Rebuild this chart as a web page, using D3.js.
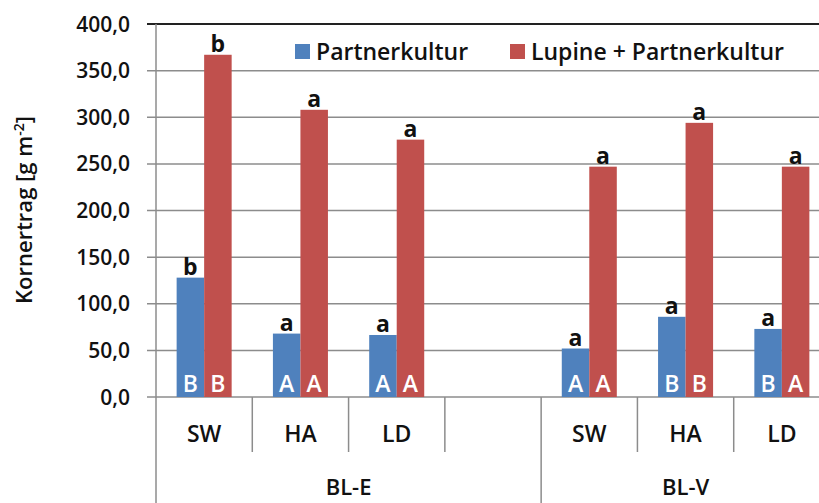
<!DOCTYPE html>
<html>
<head>
<meta charset="utf-8">
<script src="https://cdn.jsdelivr.net/npm/d3@7"></script>
<style>
  body { margin: 0; background: #fff; }
  svg text { font-family: 'Open Sans', Lato, sans-serif; font-weight: 600; fill: #111; }
</style>
</head>
<body>
<div id="chart"></div>
<script>
// Data
const slots = ['E-SW', 'E-HA', 'E-LD', 'E-gap', 'V-SW', 'V-HA', 'V-LD'];
const categories = ['SW', 'HA', 'LD', '', 'SW', 'HA', 'LD'];
const groups = ['BL-E', 'BL-V'];
const groupSlots = [['E-SW', 'E-gap'], ['V-SW', 'V-LD']];
const series = ['Partnerkultur', 'Lupine + Partnerkultur'];
const partner = [128, 68, 66.5, null, 52, 86, 73];
const lupine = [367, 308, 276, null, 247, 294, 247];
const partnerLower = ['b', 'a', 'a', null, 'a', 'a', 'a'];
const lupineLower = ['b', 'a', 'a', null, 'a', 'a', 'a'];
const partnerUpper = ['B', 'A', 'A', null, 'A', 'B', 'B'];
const lupineUpper = ['B', 'A', 'A', null, 'A', 'B', 'A'];
const yTicks = [0, 50, 100, 150, 200, 250, 300, 350, 400];

const colors = ['#4F81BD', '#C0504D'];
const W = 819, H = 503;

const svg = d3.select('#chart').append('svg')
  .attr('width', W)
  .attr('height', H);

const x = d3.scaleBand().domain(slots).range([156, 830]).padding(0);
const xs = d3.scaleBand().domain([0, 1]).range([0, x.bandwidth()]).paddingInner(0).paddingOuter(0.75);
const y = d3.scaleLinear().domain([0, 400]).range([397, 24]);

// Gridlines
svg.append('g')
  .selectAll('line')
  .data(yTicks)
  .join('line')
  .attr('x1', 147)
  .attr('x2', W)
  .attr('y1', d => y(d))
  .attr('y2', d => y(d))
  .attr('stroke', d => d === 400 ? '#222' : '#8c8c8c')
  .attr('stroke-width', d => d === 400 ? 2 : 1.5);

// Y tick labels
svg.append('g')
  .selectAll('text')
  .data(yTicks)
  .join('text')
  .attr('x', 130)
  .attr('y', d => y(d))
  .attr('dy', '0.36em')
  .attr('text-anchor', 'end')
  .style('font-size', '21px')
  .text(d => d3.format('.1f')(d).replace('.', ','));

// Y axis title
const yt = svg.append('text')
  .attr('transform', 'translate(32,210) rotate(-90)')
  .attr('text-anchor', 'middle')
  .style('font-size', '22px');
yt.append('tspan').text('Kornertrag [g m');
yt.append('tspan').attr('dy', -8).style('font-size', '14px').text('-2');
yt.append('tspan').attr('dy', 8).text(']');

// Left axis line
svg.append('line')
  .attr('x1', 156).attr('x2', 156)
  .attr('y1', 24).attr('y2', H)
  .attr('stroke', '#8c8c8c').attr('stroke-width', 1.5);

// Category separators
const bounds = slots.slice(1).map(s => x(s));
svg.append('g')
  .selectAll('line')
  .data(bounds)
  .join('line')
  .attr('x1', d => d).attr('x2', d => d)
  .attr('y1', 397)
  .attr('y2', d => Math.abs(d - x('V-SW')) < 1 ? H : 452)
  .attr('stroke', '#8c8c8c').attr('stroke-width', 1.5);

// Category labels
svg.append('g')
  .selectAll('text')
  .data(slots)
  .join('text')
  .attr('x', d => x(d) + x.bandwidth() / 2)
  .attr('y', 442)
  .attr('text-anchor', 'middle')
  .style('font-size', '23px')
  .text((d, i) => categories[i]);

// Group labels
svg.append('g')
  .selectAll('text')
  .data(groups)
  .join('text')
  .attr('x', (d, i) => (x(groupSlots[i][0]) + x(groupSlots[i][1]) + x.bandwidth()) / 2)
  .attr('y', 495)
  .attr('text-anchor', 'middle')
  .style('font-size', '22px')
  .text(d => d);

// Bars
const barData = [];
slots.forEach((s, i) => {
  if (partner[i] != null) barData.push({ slot: s, k: 0, v: partner[i], lo: partnerLower[i], up: partnerUpper[i] });
  if (lupine[i] != null) barData.push({ slot: s, k: 1, v: lupine[i], lo: lupineLower[i], up: lupineUpper[i] });
});

const bars = svg.append('g');
bars.selectAll('rect')
  .data(barData)
  .join('rect')
  .attr('x', d => x(d.slot) + xs(d.k))
  .attr('width', xs.bandwidth())
  .attr('y', d => y(d.v))
  .attr('height', d => y(0) - y(d.v))
  .attr('fill', d => colors[d.k]);

// Lowercase letters above bars
bars.selectAll('text.lo')
  .data(barData)
  .join('text')
  .attr('class', 'lo')
  .attr('x', d => x(d.slot) + xs(d.k) + xs.bandwidth() / 2)
  .attr('y', d => y(d.v) - 3)
  .attr('text-anchor', 'middle')
  .style('font-size', '23px')
  .style('font-weight', '700')
  .text(d => d.lo);

// Uppercase letters inside bars
bars.selectAll('text.up')
  .data(barData)
  .join('text')
  .attr('class', 'up')
  .attr('x', d => x(d.slot) + xs(d.k) + xs.bandwidth() / 2)
  .attr('y', 392)
  .attr('text-anchor', 'middle')
  .style('font-size', '23px')
  .style('fill', '#fff')
  .text(d => d.up);

// Legend
const legendX = [295, 510];
const legend = svg.append('g')
  .selectAll('g')
  .data(series)
  .join('g')
  .attr('transform', (d, i) => `translate(${legendX[i]},52)`);
legend.append('rect')
  .attr('x', 0).attr('y', -8)
  .attr('width', 15).attr('height', 15)
  .attr('fill', (d, i) => colors[i]);
legend.append('text')
  .attr('x', 21)
  .attr('y', 8)
  .style('font-size', '23px')
  .text(d => d);
</script>
</body>
</html>
